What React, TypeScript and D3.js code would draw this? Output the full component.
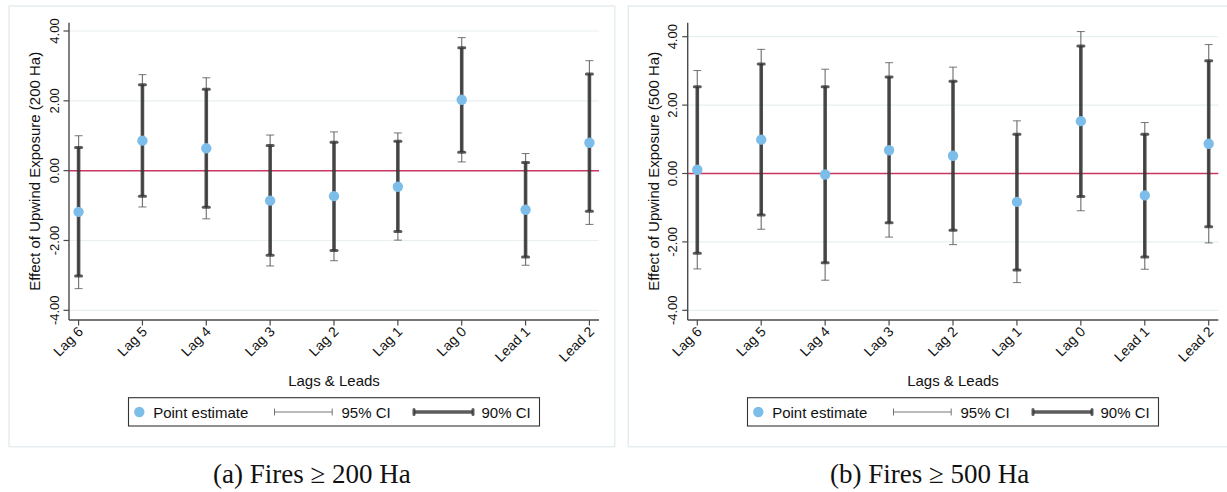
import React from "react";
import * as d3 from "d3";

const categories = ["Lag 6", "Lag 5", "Lag 4", "Lag 3", "Lag 2", "Lag 1", "Lag 0", "Lead 1", "Lead 2"];
const yTicks = [-4, -2, 0, 2, 4];

const aPoint = [-1.18, 0.86, 0.64, -0.86, -0.73, -0.46, 2.03, -1.12, 0.8];
const aLo95 = [-3.38, -1.04, -1.38, -2.73, -2.58, -1.99, 0.25, -2.71, -1.54];
const aHi95 = [1.0, 2.75, 2.66, 1.02, 1.11, 1.08, 3.81, 0.49, 3.15];
const aLo90 = [-3.02, -0.73, -1.05, -2.42, -2.29, -1.74, 0.53, -2.47, -1.16];
const aHi90 = [0.66, 2.46, 2.33, 0.72, 0.81, 0.84, 3.52, 0.23, 2.77];

const bPoint = [0.11, 0.99, -0.03, 0.68, 0.52, -0.83, 1.53, -0.64, 0.87];
const bLo95 = [-2.79, -1.63, -3.12, -1.86, -2.08, -3.19, -1.09, -2.8, -2.03];
const bHi95 = [3.01, 3.63, 3.05, 3.24, 3.11, 1.54, 4.15, 1.49, 3.77];
const bLo90 = [-2.33, -1.21, -2.61, -1.44, -1.66, -2.82, -0.67, -2.44, -1.56];
const bHi90 = [2.54, 3.2, 2.54, 2.82, 2.7, 1.15, 3.73, 1.15, 3.3];

const SANS = "'Liberation Sans', Arial, sans-serif";
const SERIF = "'Liberation Serif', 'Times New Roman', serif";

type PanelProps = {
  frameX: number;
  frameW: number;
  left: number;
  right: number;
  yTop4: number;
  yBot4: number;
  yLabel: string;
  caption: string;
  point: number[];
  lo95: number[];
  hi95: number[];
  lo90: number[];
  hi90: number[];
};

function Panel(p: PanelProps) {
  const plotTop = 22.7;
  const plotBottom = 320;
  const x = d3.scalePoint<string>().domain(categories).range([p.left, p.right]).padding(0.15);
  const y = d3.scaleLinear().domain([-4, 4]).range([p.yBot4, p.yTop4]);
  const cx = (p.left + p.right) / 2;
  const cy = (plotTop + plotBottom) / 2;
  const legW = 411;
  const legX = cx - legW / 2;
  const legY = 397.7;
  const legMid = 412;
  const fmt = (v: number) => v.toFixed(2);
  return (
    <g>
      <rect x={p.frameX} y={6} width={p.frameW} height={440.7} fill="#fff" stroke="#e5edf0" strokeWidth={1.5} />
      {yTicks.filter((t) => t !== 0).map((t) => (
        <line key={"g" + t} x1={p.left} x2={p.right} y1={y(t)} y2={y(t)} stroke="#e8f0f2" strokeWidth={1.2} />
      ))}
      <line x1={p.left} x2={p.right} y1={y(0)} y2={y(0)} stroke="#c8375f" strokeWidth={1.5} />
      <line x1={p.left} x2={p.left} y1={plotTop} y2={plotBottom} stroke="#4a4a4a" strokeWidth={1.4} />
      {yTicks.map((t) => (
        <g key={"yt" + t}>
          <line x1={p.left - 5.5} x2={p.left} y1={y(t)} y2={y(t)} stroke="#4a4a4a" strokeWidth={1.2} />
          <text
            transform={`translate(${p.left - 10.5},${y(t)}) rotate(-90)`}
            textAnchor="middle"
            fontFamily={SANS}
            fontSize={13}
            fill="#111"
          >
            {fmt(t)}
          </text>
        </g>
      ))}
      <line x1={p.left} x2={p.right} y1={plotBottom} y2={plotBottom} stroke="#4a4a4a" strokeWidth={1.4} />
      {categories.map((c) => (
        <g key={"xt" + c}>
          <line x1={x(c)!} x2={x(c)!} y1={plotBottom} y2={plotBottom + 5.5} stroke="#4a4a4a" strokeWidth={1.2} />
          <text
            transform={`translate(${(x(c) as number) + 5.5},${plotBottom + 12.5}) rotate(-45)`}
            textAnchor="end"
            fontFamily={SANS}
            fontSize={14}
            fill="#111"
          >
            {c}
          </text>
        </g>
      ))}
      <text
        transform={`translate(${p.left - 29},${cy}) rotate(-90)`}
        textAnchor="middle"
        fontFamily={SANS}
        fontSize={15}
        fill="#111"
      >
        {p.yLabel}
      </text>
      <text x={cx} y={385.5} textAnchor="middle" fontFamily={SANS} fontSize={15} fill="#111">
        Lags &amp; Leads
      </text>
      {categories.map((c, i) => {
        const xc = x(c) as number;
        return (
          <g key={"e" + c}>
            <line x1={xc} x2={xc} y1={y(p.lo95[i])} y2={y(p.hi95[i])} stroke="#555" strokeOpacity={0.8} strokeWidth={1.2} />
            <line x1={xc - 4} x2={xc + 4} y1={y(p.lo95[i])} y2={y(p.lo95[i])} stroke="#555" strokeOpacity={0.8} strokeWidth={1} />
            <line x1={xc - 4} x2={xc + 4} y1={y(p.hi95[i])} y2={y(p.hi95[i])} stroke="#555" strokeOpacity={0.8} strokeWidth={1} />
            <line x1={xc} x2={xc} y1={y(p.lo90[i])} y2={y(p.hi90[i])} stroke="#333" strokeOpacity={0.85} strokeWidth={3.6} />
            <line x1={xc - 3} x2={xc + 3} y1={y(p.lo90[i])} y2={y(p.lo90[i])} stroke="#333" strokeOpacity={0.8} strokeWidth={3} strokeLinecap="round" />
            <line x1={xc - 3} x2={xc + 3} y1={y(p.hi90[i])} y2={y(p.hi90[i])} stroke="#333" strokeOpacity={0.8} strokeWidth={3} strokeLinecap="round" />
          </g>
        );
      })}
      {categories.map((c, i) => (
        <circle key={"p" + c} cx={x(c)!} cy={y(p.point[i])} r={5.2} fill="#7dbde9" />
      ))}
      <rect x={legX} y={legY} width={legW} height={28.3} fill="#fff" stroke="#333" strokeWidth={1.1} />
      <circle cx={legX + 10.8} cy={legMid} r={5.2} fill="#7dbde9" />
      <text x={legX + 24.7} y={417.5} fontFamily={SANS} fontSize={15} fill="#111">Point estimate</text>
      <line x1={legX + 146} x2={legX + 203.7} y1={legMid} y2={legMid} stroke="#555" strokeOpacity={0.8} strokeWidth={1.1} />
      <line x1={legX + 146} x2={legX + 146} y1={legMid - 3.5} y2={legMid + 3.5} stroke="#555" strokeOpacity={0.8} strokeWidth={1} />
      <line x1={legX + 203.7} x2={legX + 203.7} y1={legMid - 3.5} y2={legMid + 3.5} stroke="#555" strokeOpacity={0.8} strokeWidth={1} />
      <text x={legX + 213} y={417.5} fontFamily={SANS} fontSize={15} fill="#111">95% CI</text>
      <line x1={legX + 285.5} x2={legX + 344.5} y1={legMid} y2={legMid} stroke="#333" strokeOpacity={0.8} strokeWidth={3.6} />
      <line x1={legX + 285.5} x2={legX + 285.5} y1={legMid - 2.5} y2={legMid + 2.5} stroke="#333" strokeOpacity={0.8} strokeWidth={3} strokeLinecap="round" />
      <line x1={legX + 344.5} x2={legX + 344.5} y1={legMid - 2.5} y2={legMid + 2.5} stroke="#333" strokeOpacity={0.8} strokeWidth={3} strokeLinecap="round" />
      <text x={legX + 353} y={417.5} fontFamily={SANS} fontSize={15} fill="#111">90% CI</text>
      <text x={p.frameX + p.frameW / 2} y={483.3} textAnchor="middle" fontFamily={SERIF} fontSize={27} fill="#111">
        {p.caption}
      </text>
    </g>
  );
}

export default function App() {
  return (
    <svg width={1227} height={492} style={{ position: "absolute", left: 0, top: 0, background: "#fff" }}>
      <rect x={0} y={0} width={1227} height={492} fill="#fff" />
      <Panel
        frameX={9}
        frameW={605.7}
        left={69}
        right={599}
        yTop4={31}
        yBot4={310.3}
        yLabel="Effect of Upwind Exposure (200 Ha)"
        caption="(a) Fires ≥ 200 Ha"
        point={aPoint}
        lo95={aLo95}
        hi95={aHi95}
        lo90={aLo90}
        hi90={aHi90}
      />
      <Panel
        frameX={628.3}
        frameW={602.8}
        left={687.7}
        right={1218.3}
        yTop4={36.7}
        yBot4={310.3}
        yLabel="Effect of Upwind Exposure (500 Ha)"
        caption="(b) Fires ≥ 500 Ha"
        point={bPoint}
        lo95={bLo95}
        hi95={bHi95}
        lo90={bLo90}
        hi90={bHi90}
      />
    </svg>
  );
}
